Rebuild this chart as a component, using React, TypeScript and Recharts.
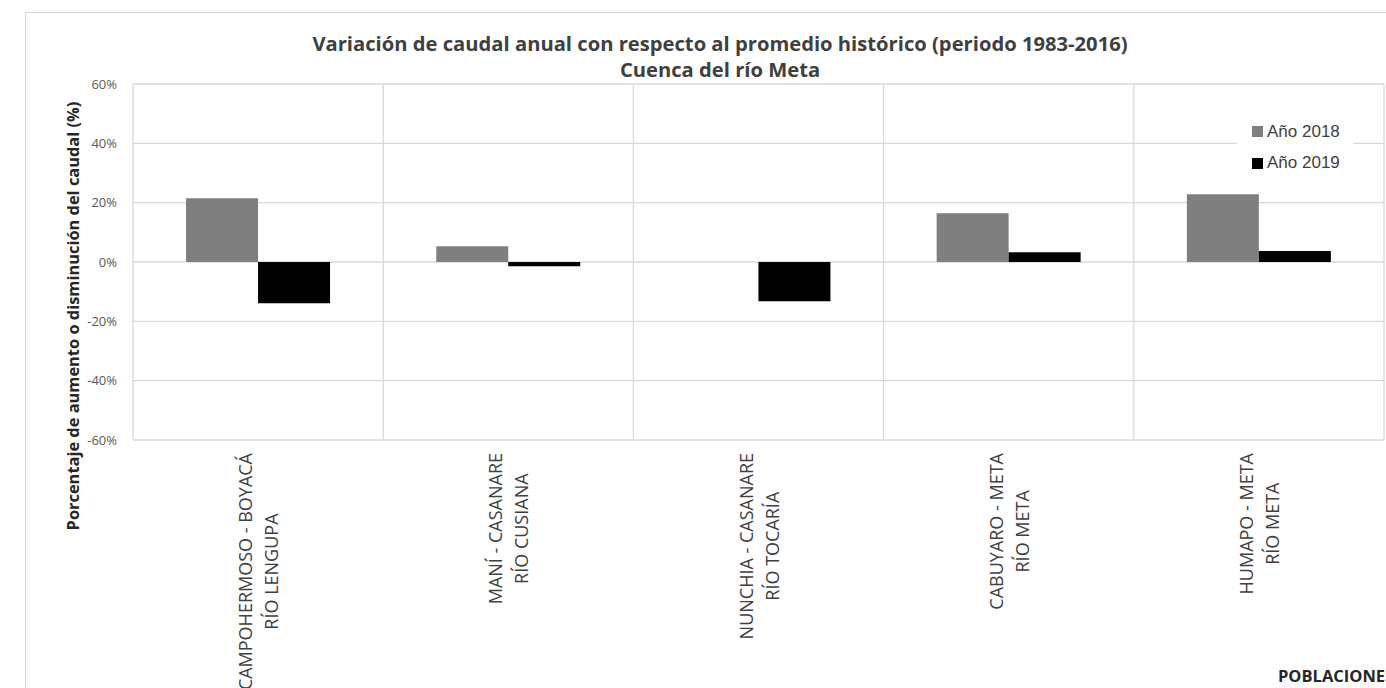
import React from "react";
import {
  BarChart,
  Bar,
  XAxis,
  YAxis,
  CartesianGrid,
  Legend,
} from "recharts";

// Stations (first label line) and rivers (second label line)
const stations = [
  "CAMPOHERMOSO - BOYACÁ",
  "MANÍ - CASANARE",
  "NUNCHIA - CASANARE",
  "CABUYARO - META",
  "HUMAPO - META",
];
const rivers = [
  "RÍO LENGUPA",
  "RÍO CUSIANA",
  "RÍO TOCARÍA",
  "RÍO META",
  "RÍO META",
];

// Annual flow variation vs. historical mean, in percent
const year2018 = [21.5, 5.3, null, 16.4, 22.8];
const year2019 = [-13.9, -1.4, -13.2, 3.3, 3.7];

const yTicks = [-60, -40, -20, 0, 20, 40, 60];

const seriesNames = ["Año 2018", "Año 2019"];
const seriesColors = ["#7f7f7f", "#000000"];

const data = stations.map((s, i) => ({
  name: `${s}\n${rivers[i]}`,
  y2018: year2018[i],
  y2019: year2019[i],
}));

const W = 1386;
const H = 688;
const PLOT_LEFT = 133;
const PLOT_TOP = 84;
const PLOT_RIGHT = 1384;
const PLOT_BOTTOM = 440;

const LABEL_FONT = '18px "Open Sans"';
let measureCtx: CanvasRenderingContext2D | null = null;
function measure(text: string, font: string): number {
  if (!measureCtx) {
    const c = document.createElement("canvas");
    measureCtx = c.getContext("2d");
  }
  if (!measureCtx) return text.length * 10;
  measureCtx.font = font;
  return measureCtx.measureText(text).width;
}

// Two-line vertical category label, block aligned to the axis, lines centered on each other
function CategoryTick(props: any) {
  const { x, y, payload } = props;
  const [top, bottom] = String(payload.value).split("\n");
  const w = Math.max(measure(top, LABEL_FONT), measure(bottom, LABEL_FONT));
  const cy = y + 13 + w / 2;
  return (
    <g transform={`translate(${x},${cy}) rotate(-90)`}>
      <text
        x={0}
        y={-13}
        textAnchor="middle"
        dominantBaseline="central"
        fontFamily="Open Sans"
        fontSize={18}
        fill="#404040"
      >
        {top}
      </text>
      <text
        x={0}
        y={13}
        textAnchor="middle"
        dominantBaseline="central"
        fontFamily="Open Sans"
        fontSize={18}
        fill="#404040"
      >
        {bottom}
      </text>
    </g>
  );
}

function LegendBox(props: any) {
  const { payload } = props;
  return (
    <div style={{ background: "#ffffff", width: 116, paddingTop: 0 }}>
      {(payload || []).map((entry: any) => (
        <div
          key={entry.value}
          style={{
            height: 31.5,
            display: "flex",
            alignItems: "center",
            paddingLeft: 15,
            fontFamily: '"Liberation Sans", Arial, sans-serif',
            fontSize: 17,
            color: "#404040",
          }}
        >
          <span
            style={{
              display: "inline-block",
              width: 11,
              height: 11,
              background: entry.color,
              marginRight: 4,
            }}
          />
          <span>{entry.value}</span>
        </div>
      ))}
    </div>
  );
}

export default function App() {
  return (
    <div
      style={{
        position: "absolute",
        left: 0,
        top: 0,
        width: W,
        height: H,
        overflow: "hidden",
        background: "#ffffff",
      }}
    >
      <div
        style={{
          position: "absolute",
          left: 25,
          top: 12,
          width: 1420,
          height: 720,
          border: "1px solid #d9d9d9",
          boxSizing: "border-box",
        }}
      />
      <div style={{ position: "absolute", left: 0, top: 0 }}>
        <BarChart
          width={W}
          height={H}
          data={data}
          margin={{ top: PLOT_TOP, left: PLOT_LEFT - 60, right: W - PLOT_RIGHT, bottom: 0 }}
          barCategoryGap="21.2%"
          barGap={0}
        >
          <CartesianGrid
            stroke="#d9d9d9"
            strokeWidth={1.3}
            verticalCoordinatesGenerator={({ offset }: any) =>
              stations.map((_, i) => offset.left + (i * offset.width) / stations.length).concat([
                offset.left + offset.width,
              ])
            }
          />
          <XAxis
            dataKey="name"
            height={H - PLOT_BOTTOM}
            axisLine={false}
            tickLine={false}
            tickSize={0}
            tickMargin={0}
            interval={0}
            tick={<CategoryTick />}
            label={{
              content: () => (
                <text
                  x={1278}
                  y={675}
                  dominantBaseline="central"
                  fontFamily="Open Sans"
                  fontWeight={700}
                  fontSize={16.5}
                  fill="#262626"
                >
                  POBLACIONES
                </text>
              ),
            }}
          />
          <YAxis
            width={60}
            domain={[-60, 60]}
            ticks={yTicks}
            axisLine={false}
            tickLine={false}
            tickSize={0}
            tickMargin={16}
            tickFormatter={(v: number) => `${v}%`}
            tick={{ fontFamily: "Open Sans", fontSize: 13, fill: "#595959" }}
            label={{
              content: () => (
                <text
                  transform="translate(72,316) rotate(-90)"
                  textAnchor="middle"
                  dominantBaseline="central"
                  fontFamily="Open Sans"
                  fontWeight={700}
                  fontSize={16.4}
                  fill="#262626"
                >
                  Porcentaje de aumento o disminución del caudal (%)
                </text>
              ),
            }}
          />
          <Legend
            layout="vertical"
            align="center"
            verticalAlign="middle"
            content={<LegendBox />}
            wrapperStyle={{ position: "absolute", left: 1237, top: 116, width: 116 }}
          />
          <Bar
            dataKey="y2018"
            name={seriesNames[0]}
            fill={seriesColors[0]}
            isAnimationActive={false}
          />
          <Bar
            dataKey="y2019"
            name={seriesNames[1]}
            fill={seriesColors[1]}
            isAnimationActive={false}
          />
          <text
            x={720}
            y={43}
            textAnchor="middle"
            dominantBaseline="central"
            fontFamily="Open Sans"
            fontWeight={700}
            fontSize={20.2}
            fill="#404040"
          >
            Variación de caudal anual con respecto al promedio histórico (periodo 1983-2016)
          </text>
          <text
            x={720}
            y={69}
            textAnchor="middle"
            dominantBaseline="central"
            fontFamily="Open Sans"
            fontWeight={700}
            fontSize={20.2}
            fill="#404040"
          >
            Cuenca del río Meta
          </text>
        </BarChart>
      </div>
    </div>
  );
}
